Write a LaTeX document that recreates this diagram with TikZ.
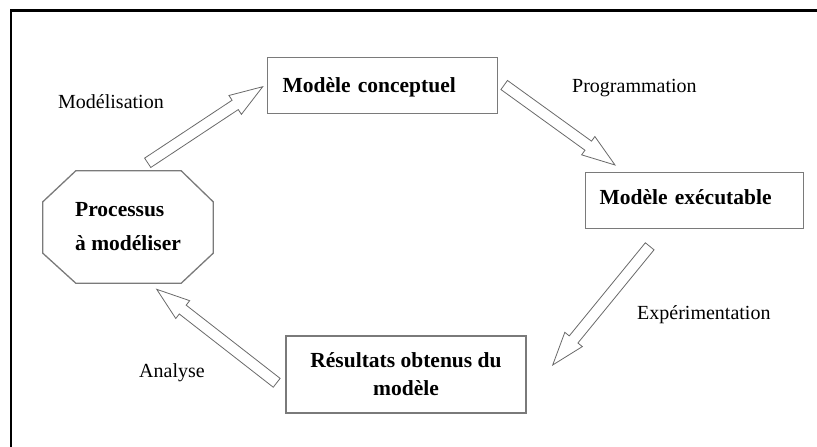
\documentclass[tikz,border=0pt]{standalone}
\usepackage{fontspec}
\setmainfont{Liberation Serif}
\usetikzlibrary{calc}
\definecolor{boxgray}{HTML}{7A7A7A}
\definecolor{arrgray}{HTML}{6A6A6A}
\newcommand{\blockarr}[2]{%
  \coordinate (#2-h) at ($(#2)!33pt!(#1)$);
  \draw[blockarrow] ($(#1)!5.6pt!90:(#2)$) -- ($(#2-h)!5.6pt!90:(#2)$) -- ($(#2-h)!11.3pt!90:(#2)$) -- (#2)
    -- ($(#2-h)!11.3pt!-90:(#2)$) -- ($(#2-h)!5.6pt!-90:(#2)$) -- ($(#1)!5.6pt!-90:(#2)$) -- cycle;}
\begin{document}
\begin{tikzpicture}[x=1pt,y=-1pt,
  box/.style={draw=boxgray, line width=1.3pt, rectangle},
  boxtext/.style={font=\fontsize{21.5}{28}\selectfont\bfseries},
  lbl/.style={font=\fontsize{20}{24}\selectfont, anchor=base west, inner sep=0pt},
  blockarrow/.style={draw=arrgray, line width=0.8pt, fill=white, line join=miter},
  frameline/.style={line width=2.2pt, black}]
\useasboundingbox (0,0) rectangle (817,447);
% frame
\draw[frameline] (11,447) -- (11,10.5) -- (817,10.5);
% boxes
\node[box, boxtext, anchor=north west, text width=200pt, align=left, inner xsep=15pt, inner ysep=0pt,
      text height=35pt, text depth=21pt] (mc) at (267,57) {Modèle conceptuel};
\node[box, boxtext, anchor=north west, text width=190pt, align=left, inner xsep=14pt, inner ysep=0pt,
      text height=32pt, text depth=24pt] (me) at (585,172) {Modèle exécutable};
\node[box, boxtext, align=center, minimum width=240pt, minimum height=77pt, inner sep=0pt] (res) at (406,374.5)
      {Résultats obtenus du\\modèle};
\node[boxtext, font=\fontsize{21.5}{34}\selectfont\bfseries, align=left, minimum width=170pt, minimum height=112pt, inner sep=0pt]
      (proc) at (128,227) {Processus\\à modéliser};
\draw[box] ($(proc.north west)+(33,0)$) -- ($(proc.north east)+(-32,0)$) -- ($(proc.north east)+(0,31)$)
  -- ($(proc.south east)+(0,-30)$) -- ($(proc.south east)+(-32,0)$) -- ($(proc.south west)+(33,0)$)
  -- ($(proc.south west)+(0,-30)$) -- ($(proc.north west)+(0,31)$) -- cycle;
% labels
\node[lbl] (l1) at (58,108) {Modélisation};
\node[lbl] (l2) at (572,92) {Programmation};
\node[lbl] (l3) at (637,319) {Expérimentation};
\node[lbl] (l4) at (139,377) {Analyse};
% arrows
\coordinate (a1s) at (147.7,162.8); \coordinate (a1e) at (262.7,86.7);
\coordinate (a2s) at (504.2,85);    \coordinate (a2e) at (615,165);
\coordinate (a3s) at (649.7,246.3); \coordinate (a3e) at (552.7,365);
\coordinate (a4s) at (276.7,382.8); \coordinate (a4e) at (156.7,289.3);
\blockarr{a1s}{a1e}
\blockarr{a2s}{a2e}
\blockarr{a3s}{a3e}
\blockarr{a4s}{a4e}
\end{tikzpicture}
\end{document}
